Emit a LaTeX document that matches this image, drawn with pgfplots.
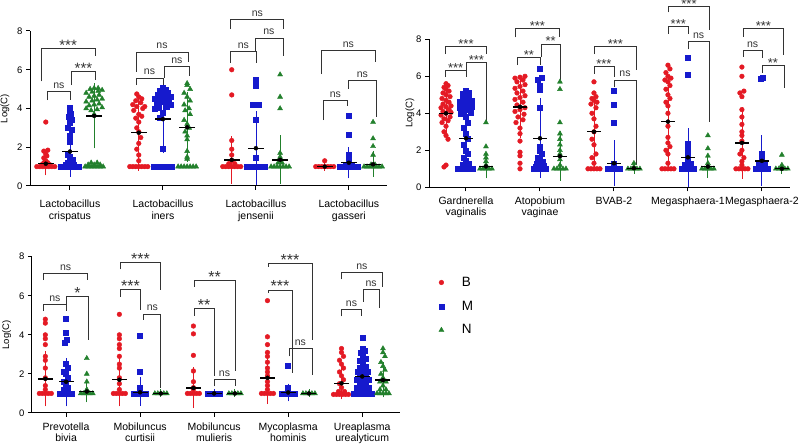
\documentclass[border=0pt]{standalone}
\usepackage{fontspec}
\setmainfont{Liberation Sans}
\usepackage{pgfplots}
\usepackage{pgfplotstable}
\pgfplotsset{compat=1.18}

\definecolor{cB}{RGB}{228,26,36}
\definecolor{cM}{RGB}{22,26,205}
\definecolor{cN}{RGB}{34,128,44}

\pgfplotsset{
  dotax/.style={
    scale only axis, clip=false,
    axis x line*=bottom, axis y line*=left,
    every outer x axis line/.append style={-},
    every outer y axis line/.append style={-},
    every inner x axis line/.append style={-},
    every inner y axis line/.append style={-},
    axis line style={line width=1pt, black},
    ymin=0, ymax=8, ytick={0,2,4,6,8},
    tick align=outside, major tick length=4pt,
    tick style={line width=1pt, black},
    /pgf/number format/assume math mode=true,
    yticklabel style={font=\fontsize{9.5}{9.5}\selectfont},
    xticklabel style={align=center},
    ylabel={Log(C)},
  },
}
\tikzset{brk/.style={black!80, line width=0.7pt}}
\newcommand{\brk}[6]{\draw[brk] (axis cs:#1,#4) -- (axis cs:#1,#3) -- node[midway, anchor=base, yshift=3pt, inner sep=0pt, font=\fontsize{10.5}{10.5}\selectfont]{#6} (axis cs:#2,#3) -- (axis cs:#2,#5);}
\def\starsz{15}
\newcommand{\st}[1]{\raisebox{-5pt}{\fontsize{\starsz}{\starsz}\selectfont #1}}

% ---------- panel 1: Lactobacillus ----------
\pgfplotstableread[row sep=\\]{c j y\\
0 -9 1\\ 0 -6 1\\ 0 -3 1\\ 0 0 1\\ 0 3 1\\ 0 6 1\\ 0 9 1\\
0 -4 1.1\\ 0 0 1.1\\ 0 4 1.1\\ 0 -2 1.2\\ 0 2 1.2\\ 0 0 1.3\\ 0 -2 1.45\\ 0 1 1.55\\ 0 0 1.65\\ 0 -2 1.8\\ 0 2 1.85\\ 0 0 3.3\\
1 -9 1\\ 1 -6 1\\ 1 -3 1\\ 1 0 1\\ 1 3 1\\ 1 6 1\\ 1 9 1\\
1 0 1.3\\ 1 0 1.6\\ 1 -2 1.9\\ 1 0 2.2\\ 1 2 2.5\\ 1 0 2.8\\ 1 -2 3.0\\ 1 0 3.3\\ 1 -3 3.5\\ 1 3 3.6\\ 1 0 3.7\\ 1 -5 3.9\\ 1 4 4.0\\ 1 -2 4.1\\ 1 6 4.1\\ 1 -6 4.2\\ 1 2 4.3\\ 1 -3 4.4\\ 1 3 4.5\\ 1 0 4.6\\ 1 -2 4.75\\
2 -9 1\\ 2 -6 1\\ 2 -3 1\\ 2 0 1\\ 2 3 1\\ 2 6 1\\ 2 9 1\\
2 -3 1.15\\ 2 3 1.15\\ 2 0 1.3\\ 2 0 1.6\\ 2 0 1.9\\ 2 0 2.35\\ 2 0 4.7\\ 2 0 6.0\\
3 -9 1\\ 3 -6 1\\ 3 -3 1\\ 3 0 1\\ 3 3 1\\ 3 6 1\\ 3 9 1\\ 3 0 1.3\\
}\pAB
\pgfplotstableread[row sep=\\]{c j y\\
0 -9 1\\ 0 -6 1\\ 0 -3 1\\ 0 0 1\\ 0 3 1\\ 0 6 1\\ 0 9 1\\
0 -4 1.1\\ 0 4 1.1\\ 0 -2 1.2\\ 0 3 1.35\\ 0 0 1.5\\ 0 -2 1.6\\ 0 0 2.3\\ 0 0 2.6\\ 0 2 2.9\\ 0 -2 3.0\\ 0 0 3.25\\ 0 2 3.4\\ 0 -1 3.6\\ 0 1 3.75\\ 0 0 3.9\\ 0 0 4.05\\
1 -9 1\\ 1 -6 1\\ 1 -3 1\\ 1 0 1\\ 1 3 1\\ 1 6 1\\ 1 9 1\\
1 0 1.9\\ 1 -3 3.5\\ 1 0 3.8\\ 1 -8 4.0\\ 1 -4 4.05\\ 1 4 4.1\\ 1 8 4.2\\ 1 -6 4.3\\ 1 0 4.35\\ 1 6 4.4\\ 1 -8 4.5\\ 1 -2 4.5\\ 1 3 4.55\\ 1 8 4.6\\ 1 -5 4.7\\ 1 0 4.75\\ 1 5 4.8\\ 1 -3 4.9\\ 1 3 4.95\\ 1 0 5.05\\
2 -9 1\\ 2 -6 1\\ 2 -3 1\\ 2 0 1\\ 2 3 1\\ 2 6 1\\ 2 9 1\\
2 0 1.45\\ 2 0 3.4\\ 2 -3 4.2\\ 2 3 4.2\\ 2 0 5.2\\ 2 0 5.3\\ 2 0 5.4\\ 2 0 5.5\\
3 -9 1\\ 3 -6 1\\ 3 -3 1\\ 3 0 1\\ 3 3 1\\ 3 6 1\\ 3 9 1\\
3 -3 1.1\\ 3 3 1.1\\ 3 0 1.2\\ 3 0 1.5\\ 3 0 1.6\\ 3 0 2.65\\ 3 0 3.65\\
}\pAM
\pgfplotstableread[row sep=\\]{c j y\\
0 -9 1\\ 0 -6 1\\ 0 -3 1\\ 0 0 1\\ 0 3 1\\ 0 6 1\\ 0 9 1\\
0 -6 1.1\\ 0 0 1.1\\ 0 6 1.1\\ 0 -3 1.2\\ 0 3 1.2\\
0 0 3.7\\ 0 -3 3.9\\ 0 3 3.95\\ 0 -8 4.0\\ 0 8 4.05\\ 0 -5 4.15\\ 0 0 4.2\\ 0 5 4.25\\ 0 -8 4.35\\ 0 -2 4.4\\ 0 3 4.45\\ 0 8 4.5\\ 0 -5 4.6\\ 0 0 4.65\\ 0 5 4.7\\ 0 -8 4.8\\ 0 -2 4.85\\ 0 4 4.9\\ 0 8 4.95\\ 0 -4 5.0\\ 0 0 5.05\\ 0 4 5.05\\
1 -9 1\\ 1 -6 1\\ 1 -3 1\\ 1 0 1\\ 1 3 1\\ 1 6 1\\ 1 9 1\\
1 0 1.4\\ 1 0 1.5\\ 1 0 1.8\\ 1 0 2.4\\ 1 0 2.6\\ 1 -2 2.8\\ 1 2 3.0\\ 1 0 3.2\\ 1 -3 3.4\\ 1 3 3.7\\ 1 -2 3.9\\ 1 2 4.0\\ 1 -3 4.2\\ 1 3 4.4\\ 1 0 4.6\\ 1 -3 4.8\\ 1 3 5.0\\ 1 0 5.2\\ 1 0 5.3\\
2 -9 1\\ 2 -6 1\\ 2 -3 1\\ 2 0 1\\ 2 3 1\\ 2 6 1\\ 2 9 1\\
2 -2 1.2\\ 2 2 1.2\\ 2 0 1.5\\ 2 0 1.7\\ 2 0 4.0\\ 2 0 4.6\\ 2 0 5.75\\
3 -9 1\\ 3 -6 1\\ 3 -3 1\\ 3 0 1\\ 3 3 1\\ 3 6 1\\ 3 9 1\\
3 -2 1.1\\ 3 2 1.1\\ 3 0 1.6\\ 3 0 2.05\\ 3 0 2.45\\ 3 0 3.3\\
}\pAN
% mean, upper and lower end of the SD bar per group
\pgfplotstableread{
c mB hB lB mM hM lM mN hN lN
0 1.15 1.55 0.75 1.78 2.92 0.68 3.62 5.10 2.15
1 2.75 4.50 1.00 3.45 5.00 1.90 3.03 4.65 1.42
2 1.35 2.35 0.33 1.95 3.65 0.25 1.35 2.40 0.30
3 1.00 1.00 1.00 1.20 1.80 0.60 1.12 1.60 0.68
}\sA

% ---------- panel 2 ----------
\pgfplotstableread[row sep=\\]{c j y\\
0 -4 3.5\\ 0 2 3.6\\ 0 -2 3.7\\ 0 4 3.8\\ 0 -5 3.9\\ 0 0 4.0\\ 0 5 4.05\\ 0 -3 4.1\\ 0 3 4.2\\ 0 -5 4.3\\ 0 0 4.35\\ 0 5 4.4\\ 0 -3 4.5\\ 0 3 4.6\\ 0 0 4.7\\ 0 -4 4.8\\ 0 4 4.9\\ 0 0 5.0\\ 0 -3 5.1\\ 0 3 5.2\\ 0 0 5.3\\ 0 -2 5.4\\ 0 2 5.5\\ 0 0 5.6\\ 0 0 3.3\\ 0 -2 3.0\\ 0 0 2.8\\ 0 2 2.6\\ 0 0 1.2\\ 0 -2 1.1\\
1 0 1.0\\ 1 0 1.3\\ 1 0 1.7\\ 1 0 1.9\\ 1 0 2.5\\ 1 0 2.9\\ 1 0 3.2\\ 1 -4 3.5\\ 1 3 3.65\\ 1 -2 3.8\\ 1 4 3.95\\ 1 -5 4.1\\ 1 0 4.2\\ 1 5 4.3\\ 1 -3 4.45\\ 1 3 4.6\\ 1 -5 4.75\\ 1 0 4.85\\ 1 5 4.95\\ 1 -3 5.1\\ 1 3 5.2\\ 1 -5 5.35\\ 1 0 5.45\\ 1 5 5.55\\ 1 -3 5.7\\ 1 3 5.8\\ 1 -5 5.9\\ 1 0 5.95\\ 1 5 6.0\\
2 -6 1\\ 2 -3 1\\ 2 0 1\\ 2 3 1\\ 2 6 1\\
2 0 1.3\\ 2 -2 1.6\\ 2 2 1.8\\ 2 0 2.3\\ 2 -2 2.6\\ 2 0 3.0\\ 2 2 3.3\\ 2 0 3.7\\ 2 -2 4.0\\ 2 2 4.3\\ 2 -3 4.5\\ 2 3 4.6\\ 2 0 4.7\\ 2 -2 4.8\\ 2 2 4.9\\ 2 0 5.1\\ 2 0 5.7\\
3 -6 1\\ 3 -3 1\\ 3 0 1\\ 3 3 1\\ 3 6 1\\
3 0 1.3\\ 3 0 1.8\\ 3 -2 2.0\\ 3 2 2.2\\ 3 0 2.4\\ 3 0 2.7\\ 3 0 3.3\\ 3 0 4.0\\ 3 0 4.4\\ 3 -2 4.6\\ 3 2 4.8\\ 3 0 5.0\\ 3 -2 5.3\\ 3 2 5.5\\ 3 0 5.7\\ 3 -3 5.8\\ 3 3 5.9\\ 3 0 6.0\\ 3 -2 6.2\\ 3 2 6.4\\ 3 0 6.6\\
4 -6 1\\ 4 -3 1\\ 4 0 1\\ 4 3 1\\ 4 6 1\\
4 0 1.2\\ 4 0 1.4\\ 4 2 1.6\\ 4 -2 1.8\\ 4 0 2.0\\ 4 0 2.5\\ 4 0 2.8\\ 4 0 3.0\\ 4 0 3.4\\ 4 0 3.8\\ 4 0 4.2\\ 4 0 4.9\\ 4 -2 5.1\\ 4 2 5.2\\ 4 0 6.0\\ 4 0 6.5\\
}\pBB
\pgfplotstableread[row sep=\\]{c j y\\
0 -8 1\\ 0 -5 1\\ 0 -2 1\\ 0 1 1\\ 0 4 1\\ 0 7 1\\
0 -3 1.2\\ 0 3 1.3\\ 0 0 1.45\\ 0 -2 1.6\\ 0 2 1.8\\ 0 0 2.0\\ 0 -2 2.3\\ 0 2 2.6\\ 0 0 2.9\\ 0 -2 3.2\\ 0 2 3.5\\ 0 0 3.8\\ 0 -5 4.0\\ 0 5 4.05\\ 0 -2 4.1\\ 0 2 4.2\\ 0 -6 4.3\\ 0 6 4.35\\ 0 0 4.4\\ 0 -4 4.5\\ 0 4 4.55\\ 0 -6 4.6\\ 0 0 4.65\\ 0 6 4.7\\ 0 -3 4.8\\ 0 3 4.85\\ 0 0 4.95\\ 0 -3 5.05\\ 0 3 5.1\\ 0 0 5.2\\
1 -6 1\\ 1 -3 1\\ 1 0 1\\ 1 3 1\\ 1 6 1\\
1 -4 1.1\\ 1 4 1.15\\ 1 0 1.2\\ 1 -3 1.3\\ 1 3 1.4\\ 1 0 1.5\\ 1 -2 1.6\\ 1 2 1.8\\ 1 0 2.0\\ 1 0 2.2\\ 1 0 4.3\\ 1 0 5.3\\ 1 0 5.5\\ 1 -2 5.8\\ 1 2 5.9\\ 1 0 6.4\\
2 -6 1\\ 2 -3 1\\ 2 0 1\\ 2 3 1\\ 2 6 1\\
2 0 1.2\\ 2 0 1.3\\ 2 0 3.5\\ 2 0 4.45\\ 2 0 5.2\\
3 -6 1\\ 3 -3 1\\ 3 0 1\\ 3 3 1\\ 3 6 1\\
3 -3 1.2\\ 3 3 1.3\\ 3 0 1.5\\ 3 0 1.6\\ 3 0 1.8\\ 3 0 2.0\\ 3 0 2.2\\ 3 0 2.35\\ 3 0 6.1\\ 3 0 7.0\\
4 -6 1\\ 4 -3 1\\ 4 0 1\\ 4 3 1\\ 4 6 1\\
4 -3 1.2\\ 4 3 1.3\\ 4 0 1.4\\ 4 0 1.6\\ 4 0 1.8\\ 4 -1 5.85\\ 4 1 5.9\\
}\pBM
\pgfplotstableread[row sep=\\]{c j y\\
0 -6 1\\ 0 -3 1\\ 0 0 1\\ 0 3 1\\ 0 6 1\\
0 0 1.2\\ 0 0 1.4\\ 0 0 1.6\\ 0 0 1.8\\ 0 0 2.2\\ 0 0 3.5\\
1 -6 1\\ 1 -3 1\\ 1 0 1\\ 1 3 1\\ 1 6 1\\
1 0 1.2\\ 1 0 1.5\\ 1 0 1.8\\ 1 0 2.0\\ 1 0 2.3\\ 1 0 2.6\\ 1 0 2.9\\ 1 0 3.5\\ 1 0 5.3\\ 1 0 5.7\\
2 -6 1\\ 2 -3 1\\ 2 0 1\\ 2 3 1\\ 2 6 1\\ 2 0 1.1\\ 2 0 1.3\\
3 -6 1\\ 3 -3 1\\ 3 0 1\\ 3 3 1\\ 3 6 1\\
3 0 1.1\\ 3 0 1.3\\ 3 0 1.7\\ 3 0 2.1\\ 3 0 2.8\\
4 -6 1\\ 4 -3 1\\ 4 0 1\\ 4 3 1\\ 4 6 1\\ 4 0 1.1\\ 4 0 1.2\\ 4 0 1.75\\
}\pBN
\pgfplotstableread{
c mB hB lB mM hM lM mN hN lN
0 4.00 5.10 2.90 2.65 4.00 1.30 1.13 1.60 0.70
1 4.35 5.70 2.90 2.65 4.60 0.72 1.68 2.80 0.56
2 3.00 4.70 1.30 1.30 2.32 0.31 1.03 1.10 0.95
3 3.55 5.80 1.33 1.62 2.97 0.25 1.12 1.50 0.72
4 2.40 4.10 0.67 1.43 2.60 0.28 1.00 1.05 0.95
}\sB

% ---------- panel 3 ----------
\pgfplotstableread[row sep=\\]{c j y\\
0 -6 1\\ 0 -3 1\\ 0 0 1\\ 0 3 1\\ 0 6 1\\
0 0 1.2\\ 0 0 1.4\\ 0 0 1.8\\ 0 0 2.3\\ 0 0 2.7\\ 0 0 2.9\\ 0 0 3.5\\ 0 0 3.8\\ 0 0 4.0\\ 0 0 4.6\\ 0 0 4.8\\
1 -6 1\\ 1 -3 1\\ 1 0 1\\ 1 3 1\\ 1 6 1\\
1 0 1.2\\ 1 0 1.5\\ 1 0 1.8\\ 1 0 2.3\\ 1 0 2.5\\ 1 0 2.9\\ 1 0 3.3\\ 1 0 3.5\\ 1 0 3.8\\ 1 0 4.0\\ 1 0 5.05\\
2 -6 1\\ 2 -3 1\\ 2 0 1\\ 2 3 1\\ 2 6 1\\
2 0 1.2\\ 2 0 1.3\\ 2 0 1.6\\ 2 0 2.15\\ 2 0 2.95\\ 2 0 4.05\\ 2 0 4.45\\
3 -6 1\\ 3 -3 1\\ 3 0 1\\ 3 3 1\\ 3 6 1\\
3 0 1.2\\ 3 0 1.4\\ 3 0 1.6\\ 3 0 1.9\\ 3 0 2.1\\ 3 0 2.3\\ 3 0 2.6\\ 3 0 2.9\\ 3 0 3.1\\ 3 0 3.5\\ 3 0 3.9\\ 3 0 5.75\\
4 -8 0.95\\ 4 -5 0.95\\ 4 -2 0.95\\ 4 1 0.95\\ 4 4 0.95\\ 4 7 0.95\\
4 -3 1.1\\ 4 3 1.1\\ 4 0 1.3\\ 4 -2 1.5\\ 4 2 1.7\\ 4 0 1.9\\ 4 -2 2.1\\ 4 2 2.3\\ 4 0 2.5\\ 4 -2 2.7\\ 4 2 2.9\\ 4 0 3.1\\ 4 0 3.3\\
}\pCB
\pgfplotstableread[row sep=\\]{c j y\\
0 -6 1\\ 0 -3 1\\ 0 0 1\\ 0 3 1\\ 0 6 1\\
0 -2 1.2\\ 0 2 1.3\\ 0 0 1.5\\ 0 -2 1.6\\ 0 2 1.8\\ 0 0 2.0\\ 0 -2 2.1\\ 0 2 2.3\\ 0 0 2.5\\ 0 -1 3.6\\ 0 1 3.75\\ 0 0 4.1\\ 0 0 4.85\\
1 -6 1\\ 1 -3 1\\ 1 0 1\\ 1 3 1\\ 1 6 1\\
1 0 1.2\\ 1 0 1.3\\ 1 0 2.1\\ 1 0 3.95\\
2 -6 1\\ 2 -3 1\\ 2 0 1\\ 2 3 1\\ 2 6 1\\
3 -6 1\\ 3 -3 1\\ 3 0 1\\ 3 3 1\\ 3 6 1\\
3 0 1.2\\ 3 0 1.3\\ 3 0 2.4\\
4 -9 1\\ 4 -6 1\\ 4 -3 1\\ 4 0 1\\ 4 3 1\\ 4 6 1\\ 4 9 1\\
4 -5 1.1\\ 4 5 1.1\\ 4 -6 1.3\\ 4 0 1.3\\ 4 6 1.3\\ 4 -3 1.5\\ 4 3 1.5\\ 4 -6 1.7\\ 4 0 1.7\\ 4 6 1.7\\ 4 -3 1.9\\ 4 3 1.9\\ 4 -5 2.1\\ 4 5 2.1\\ 4 0 2.2\\ 4 -3 2.3\\ 4 3 2.35\\ 4 0 2.5\\ 4 -3 2.7\\ 4 3 2.8\\ 4 0 2.9\\ 4 -2 3.1\\ 4 2 3.2\\ 4 0 3.3\\ 4 0 3.85\\
}\pCM
\pgfplotstableread[row sep=\\]{c j y\\
0 -6 1\\ 0 -3 1\\ 0 0 1\\ 0 3 1\\ 0 6 1\\
0 0 1.1\\ 0 0 1.2\\ 0 0 1.6\\ 0 0 2.0\\ 0 0 2.8\\
1 -6 1\\ 1 -3 1\\ 1 0 1\\ 1 3 1\\ 1 6 1\\
2 -6 1\\ 2 -3 1\\ 2 0 1\\ 2 3 1\\ 2 6 1\\
3 -6 1\\ 3 -3 1\\ 3 0 1\\ 3 3 1\\ 3 6 1\\
4 -6 1\\ 4 -3 1\\ 4 0 1\\ 4 3 1\\ 4 6 1\\
4 -3 1.2\\ 4 3 1.2\\ 4 0 1.4\\ 4 -3 1.6\\ 4 3 1.6\\ 4 0 1.8\\ 4 -2 2.0\\ 4 2 2.2\\ 4 0 2.4\\ 4 -2 2.6\\ 4 2 2.9\\ 4 0 3.1\\ 4 0 3.3\\
}\pCN
\pgfplotstableread{
c mB hB lB mM hM lM mN hN lN
0 1.75 2.95 0.55 1.60 2.60 0.55 1.10 1.45 0.75
1 1.70 2.82 0.55 1.06 1.65 0.58 1.00 1.00 1.00
2 1.28 2.13 0.46 1.00 1.00 1.00 1.00 1.00 1.00
3 1.80 2.95 0.66 1.05 1.30 0.80 1.00 1.00 1.00
4 1.52 2.20 0.90 1.87 2.60 1.10 1.68 2.40 1.00
}\sC

% draws points, SD bars and mean lines of one panel
% #1 #2 #3 point tables B M N, #4 stats table, #5 group offset, #6 px per category, #7 mean half width
\newcommand{\panel}[7]{
  \addplot[only marks, mark=*, mark size=2.35pt, color=cB] table[x expr=\thisrow{c}-#5+\thisrow{j}/#6, y=y] {#1};
  \addplot[only marks, mark=square*, mark size=2.5pt, color=cM] table[x expr=\thisrow{c}+\thisrow{j}/#6, y=y] {#2};
  \addplot[only marks, mark=triangle*, mark size=2.9pt, color=cN] table[x expr=\thisrow{c}+#5+\thisrow{j}/#6, y=y] {#3};
  \addplot[forget plot, only marks, mark=none, error bars/.cd, y dir=both, y explicit,
    error bar style={draw=cB, line width=0.8pt}, error mark options={draw=cB, mark size=4pt, line width=0.8pt}]
    table[x expr=\thisrow{c}-#5, y=mB, y error plus expr=\thisrow{hB}-\thisrow{mB}, y error minus expr=\thisrow{mB}-\thisrow{lB}] {#4};
  \addplot[forget plot, only marks, mark=none, error bars/.cd, y dir=both, y explicit,
    error bar style={draw=cM, line width=0.8pt}, error mark options={draw=cM, mark size=4pt, line width=0.8pt}]
    table[x expr=\thisrow{c}, y=mM, y error plus expr=\thisrow{hM}-\thisrow{mM}, y error minus expr=\thisrow{mM}-\thisrow{lM}] {#4};
  \addplot[forget plot, only marks, mark=none, error bars/.cd, y dir=both, y explicit,
    error bar style={draw=cN, line width=0.8pt}, error mark options={draw=cN, mark size=4pt, line width=0.8pt}]
    table[x expr=\thisrow{c}+#5, y=mN, y error plus expr=\thisrow{hN}-\thisrow{mN}, y error minus expr=\thisrow{mN}-\thisrow{lN}] {#4};
  \addplot[forget plot, only marks, mark=-, mark size=#7, mark options={black, line width=1.4pt}] table[x expr=\thisrow{c}-#5, y=mB] {#4};
  \addplot[forget plot, only marks, mark=-, mark size=#7, mark options={black, line width=1.4pt}] table[x expr=\thisrow{c}, y=mM] {#4};
  \addplot[forget plot, only marks, mark=-, mark size=#7, mark options={black, line width=1.4pt}] table[x expr=\thisrow{c}+#5, y=mN] {#4};
}

\begin{document}
\begin{tikzpicture}
\useasboundingbox (0pt,0pt) rectangle (800pt,446pt);

% panel 1
\begin{axis}[dotax, at={(30pt,260pt)}, anchor=south west, width=357pt, height=155pt,
  xmin=-0.43, xmax=3.41, xtick={0,1,2,3},
  xticklabels={{Lactobacillus\\crispatus},{Lactobacillus\\iners},{Lactobacillus\\jensenii},{Lactobacillus\\gasseri}},
  xticklabel style={font=\fontsize{10.5}{12.7}\selectfont, yshift=-6pt},
  ylabel style={at={(axis description cs:-0.07,0.5)}, anchor=center, font=\fontsize{9.5}{9.5}\selectfont}]
\panel{\pAB}{\pAM}{\pAN}{\sA}{0.26}{93}{8pt}
\def\starsz{15}
\brk{-0.31}{0.27}{7.12}{5.4}{6.7}{\st{***}}
\brk{-0.24}{0}{4.9}{4.43}{4.43}{ns}
\brk{0.02}{0.27}{5.92}{5.2}{5.46}{\st{***}}
\brk{0.71}{1.27}{6.92}{5.9}{6.4}{ns}
\brk{0.71}{1.0}{5.58}{5.2}{5.1}{ns}
\brk{1.02}{1.28}{6.15}{5.58}{5.66}{ns}
\brk{1.73}{2.3}{8.58}{8.1}{8.1}{ns}
\brk{1.73}{2.0}{6.95}{6.35}{6.35}{ns}
\brk{1.99}{2.29}{7.64}{6.95}{6.7}{ns}
\brk{2.7}{3.29}{7.0}{5.77}{6.4}{ns}
\brk{2.73}{2.98}{4.4}{3.4}{4.12}{ns}
\brk{2.99}{3.3}{5.46}{5.03}{3.57}{ns}
\end{axis}

% panel 2
\begin{axis}[dotax, at={(429pt,258.7pt)}, anchor=south west, width=361pt, height=148pt,
  xmin=-0.5, xmax=4.38, xtick={0,1,2,3,4},
  xticklabels={{Gardnerella\\vaginalis},{Atopobium\\vaginae},{BVAB-2},{Megasphaera-1},{Megasphaera-2}},
  xticklabel style={font=\fontsize{10.5}{10.7}\selectfont, yshift=-2pt},
  ylabel style={at={(axis description cs:-0.053,0.5)}, anchor=center, font=\fontsize{9.5}{9.5}\selectfont}]
\panel{\pBB}{\pBM}{\pBN}{\sB}{0.27}{74}{7pt}
\def\starsz{13}
\brk{-0.28}{0.28}{7.6}{7.2}{7.2}{\st{***}}
\brk{-0.28}{0}{6.3}{5.95}{5.95}{\st{***}}
\brk{0}{0.28}{6.76}{6.3}{3.55}{\st{***}}
\brk{0.67}{1.26}{8.6}{8.1}{8.1}{\st{***}}
\brk{0.69}{1.01}{7.03}{6.6}{6.6}{\st{**}}
\brk{1.02}{1.27}{7.75}{7.03}{5.8}{\st{**}}
\brk{1.74}{2.3}{7.6}{7.2}{6.34}{\st{***}}
\brk{1.73}{2.0}{6.52}{6.13}{5.95}{\st{***}}
\brk{2.0}{2.3}{5.8}{5.4}{1.2}{ns}
\brk{2.74}{3.29}{9.77}{9.46}{8.5}{\st{***}}
\brk{2.74}{3.0}{8.68}{8.3}{8.3}{\st{***}}
\brk{3.0}{3.29}{7.87}{7.46}{3.55}{ns}
\brk{3.75}{4.29}{8.6}{8.14}{7.15}{\st{***}}
\brk{3.75}{4.0}{7.42}{7.06}{6.97}{ns}
\brk{4.0}{4.3}{6.58}{6.2}{5.35}{\st{**}}
\end{axis}

% panel 3
\begin{axis}[dotax, at={(32pt,33pt)}, anchor=south west, width=368pt, height=156.3pt,
  xmin=-0.46, xmax=4.51, xtick={0,1,2,3,4},
  xticklabels={{Prevotella\\bivia},{Mobiluncus\\curtisii},{Mobiluncus\\mulieris},{Mycoplasma\\hominis},{Ureaplasma\\urealyticum}},
  xticklabel style={font=\fontsize{10.5}{11}\selectfont, yshift=-2pt},
  ylabel style={at={(axis description cs:-0.069,0.5)}, anchor=center, font=\fontsize{9.5}{9.5}\selectfont},
  legend style={at={(1.097,0.89)}, anchor=north west, draw=none, fill=none,
    font=\fontsize{13.5}{13.5}\selectfont, row sep=11pt, column sep=17pt, nodes={inner sep=1pt}},
  legend cell align=left]
\panel{\pCB}{\pCM}{\pCN}{\sC}{0.28}{74}{7.5pt}
\addlegendentry{B}\addlegendentry{M}\addlegendentry{N}
\def\starsz{16}
\brk{-0.3}{0.29}{7.15}{6.8}{6.8}{ns}
\brk{-0.3}{0}{5.57}{5.22}{5.22}{ns}
\brk{0.01}{0.3}{5.96}{5.53}{3.74}{\st{*}}
\brk{0.73}{1.28}{7.69}{7.35}{6.3}{\st{***}}
\brk{0.73}{1.01}{6.33}{5.96}{5.28}{\st{***}}
\brk{1.05}{1.28}{5.07}{4.77}{1.28}{ns}
\brk{1.73}{2.28}{6.8}{6.47}{2.13}{\st{**}}
\brk{1.73}{2.0}{5.34}{4.97}{1.87}{\st{**}}
\brk{2.0}{2.28}{1.7}{1.36}{1.36}{ns}
\brk{2.73}{3.32}{7.66}{7.49}{3.74}{\st{***}}
\brk{2.73}{3.05}{6.3}{6.13}{2.04}{\st{***}}
\brk{3.01}{3.32}{3.29}{2.9}{1.96}{ns}
\brk{3.72}{4.27}{7.18}{6.84}{6.47}{ns}
\brk{3.72}{3.99}{5.31}{4.94}{4.94}{ns}
\brk{4.01}{4.23}{6.33}{5.7}{5.36}{ns}
\end{axis}
\end{tikzpicture}
\end{document}
